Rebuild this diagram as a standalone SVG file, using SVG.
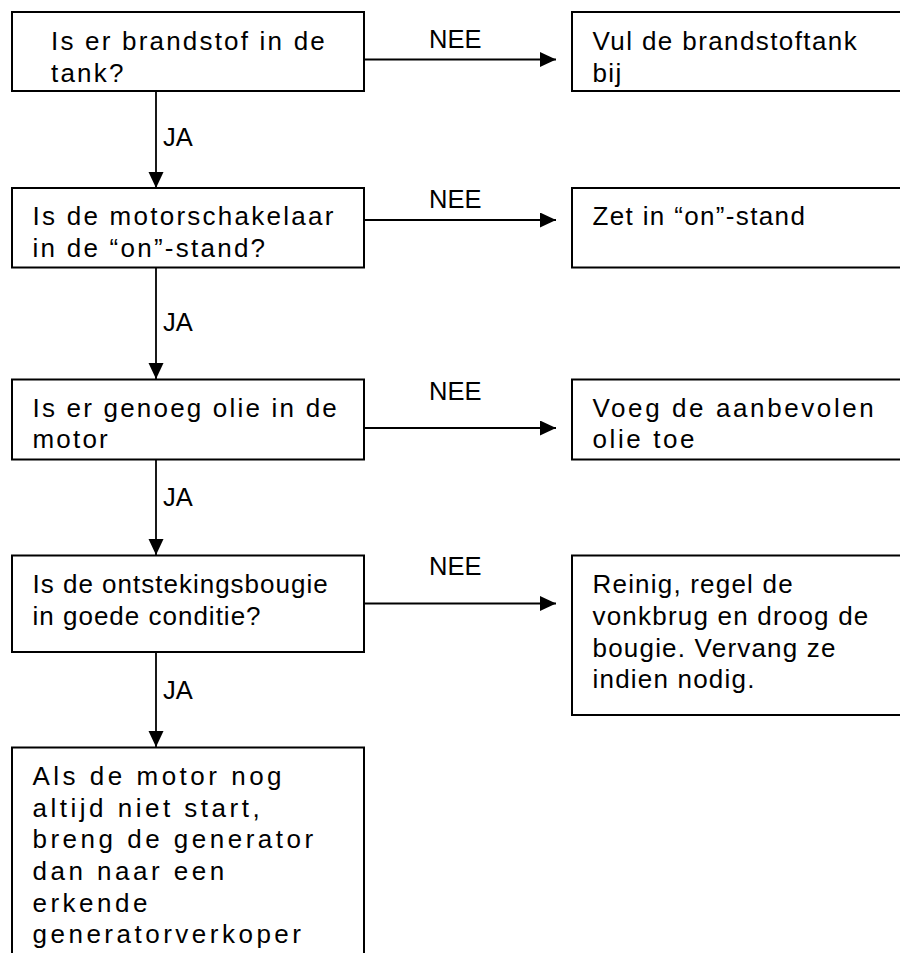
<svg xmlns="http://www.w3.org/2000/svg" width="900" height="953" viewBox="0 0 900 953">
  <style>
    .box { fill: #ffffff; stroke: #000000; stroke-width: 2; }
    .conn { fill: none; stroke: #000000; stroke-width: 1.8; }
    .t { font-family: "Liberation Sans", Arial, sans-serif; font-size: 26px; fill: #000000; }
    .lbl { font-family: "Liberation Sans", Arial, sans-serif; font-size: 25.5px; fill: #000000; }
  </style>
  <defs>
    <marker id="arr" markerUnits="userSpaceOnUse" markerWidth="17" markerHeight="16" refX="16" refY="7.5" orient="auto">
      <path d="M0,0 L16,7.5 L0,15 Z" fill="#000000"/>
    </marker>
  </defs>
  <rect width="900" height="953" fill="#ffffff"/>

  <g id="connectors">
    <line class="conn" x1="156" y1="91" x2="156" y2="188" marker-end="url(#arr)"/>
    <line class="conn" x1="156" y1="267" x2="156" y2="379" marker-end="url(#arr)"/>
    <line class="conn" x1="156" y1="459" x2="156" y2="555" marker-end="url(#arr)"/>
    <line class="conn" x1="156" y1="652" x2="156" y2="747" marker-end="url(#arr)"/>
    <line class="conn" x1="364" y1="59.5" x2="556" y2="59.5" marker-end="url(#arr)"/>
    <line class="conn" x1="364" y1="220" x2="556" y2="220" marker-end="url(#arr)"/>
    <line class="conn" x1="364" y1="428" x2="556" y2="428" marker-end="url(#arr)"/>
    <line class="conn" x1="364" y1="603.5" x2="556" y2="603.5" marker-end="url(#arr)"/>
    <text class="lbl" x="163" y="146">JA</text>
    <text class="lbl" x="163" y="331">JA</text>
    <text class="lbl" x="163" y="506">JA</text>
    <text class="lbl" x="163" y="699">JA</text>
    <text class="lbl" x="429" y="47.5">NEE</text>
    <text class="lbl" x="429" y="208">NEE</text>
    <text class="lbl" x="429" y="399.5">NEE</text>
    <text class="lbl" x="429" y="575">NEE</text>
  </g>

  <g id="q1">
    <rect class="box" x="12" y="12" width="352" height="79"/>
    <text class="t" letter-spacing="2.2"><tspan x="51" y="50">Is er brandstof in de</tspan><tspan x="51" y="81.5">tank?</tspan></text>
  </g>
  <g id="a1">
    <rect class="box" x="572" y="12" width="340" height="79"/>
    <text class="t" letter-spacing="1.4"><tspan x="592.5" y="50">Vul de brandstoftank</tspan><tspan x="592.5" y="81.5">bij</tspan></text>
  </g>

  <g id="q2">
    <rect class="box" x="12" y="188" width="352" height="79.5"/>
    <text class="t" letter-spacing="2.25"><tspan x="32.5" y="225">Is de motorschakelaar</tspan><tspan x="32.5" y="256.5">in de “on”-stand?</tspan></text>
  </g>
  <g id="a2">
    <rect class="box" x="572" y="188" width="340" height="79.5"/>
    <text class="t" letter-spacing="1.35"><tspan x="592.5" y="225">Zet in “on”-stand</tspan></text>
  </g>

  <g id="q3">
    <rect class="box" x="12" y="379.5" width="352" height="80"/>
    <text class="t" letter-spacing="2.2"><tspan x="32.5" y="416.5">Is er genoeg olie in de</tspan><tspan x="32.5" y="448.3">motor</tspan></text>
  </g>
  <g id="a3">
    <rect class="box" x="572" y="379.5" width="340" height="80"/>
    <text class="t" letter-spacing="2.6"><tspan x="592.5" y="416.5">Voeg de aanbevolen</tspan><tspan x="592.5" y="448.3">olie toe</tspan></text>
  </g>

  <g id="q4">
    <rect class="box" x="12" y="555.5" width="352" height="96.5"/>
    <text class="t" letter-spacing="1"><tspan x="32.5" y="593.3">Is de ontstekingsbougie</tspan><tspan x="32.5" y="625">in goede conditie?</tspan></text>
  </g>
  <g id="a4">
    <rect class="box" x="572" y="555.5" width="340" height="159.5"/>
    <text class="t" letter-spacing="1.2"><tspan x="592.5" y="593.3">Reinig, regel de</tspan><tspan x="592.5" y="625">vonkbrug en droog de</tspan><tspan x="592.5" y="656.7">bougie. Vervang ze</tspan><tspan x="592.5" y="688.3">indien nodig.</tspan></text>
  </g>

  <g id="end">
    <rect class="box" x="12" y="747.5" width="352" height="230"/>
    <text class="t" letter-spacing="3.5"><tspan x="32.5" y="785">Als de motor nog</tspan><tspan x="32.5" y="816.7">altijd niet start,</tspan><tspan x="32.5" y="848.3">breng de generator</tspan><tspan x="32.5" y="880">dan naar een</tspan><tspan x="32.5" y="911.7">erkende</tspan><tspan x="32.5" y="943.3">generatorverkoper</tspan></text>
  </g>
</svg>
